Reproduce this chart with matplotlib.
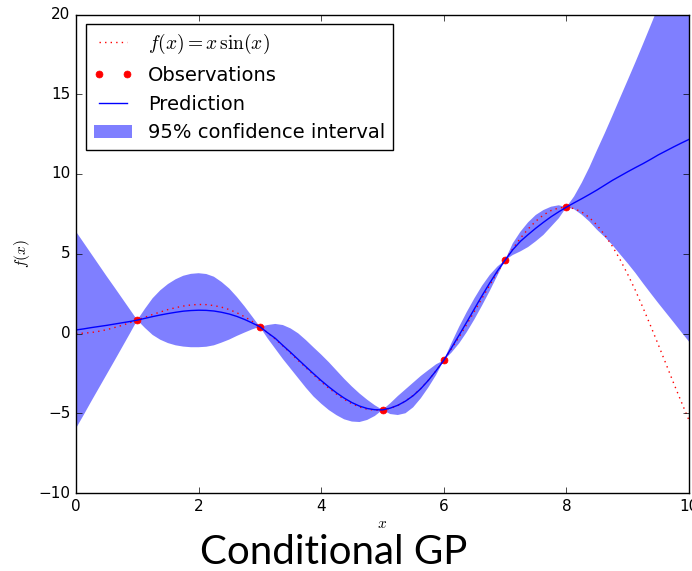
import matplotlib
matplotlib.use("Agg")
import matplotlib.pyplot as plt

x = [0.0, 0.125, 0.25, 0.375, 0.5, 0.625, 0.75, 0.875,
     1.0, 1.125, 1.25, 1.375, 1.5, 1.625, 1.75, 1.875,
     2.0, 2.125, 2.25, 2.375, 2.5, 2.625, 2.75, 2.875,
     3.0, 3.125, 3.25, 3.375, 3.5, 3.625, 3.75, 3.875,
     4.0, 4.125, 4.25, 4.375, 4.5, 4.625, 4.75, 4.875,
     5.0, 5.125, 5.25, 5.375, 5.5, 5.625, 5.75, 5.875,
     6.0, 6.125, 6.25, 6.375, 6.5, 6.625, 6.75, 6.875,
     7.0, 7.125, 7.25, 7.375, 7.5, 7.625, 7.75, 7.875,
     8.0, 8.125, 8.25, 8.375, 8.5, 8.625, 8.75, 8.875,
     9.0, 9.125, 9.25, 9.375, 9.5, 9.625, 9.75, 9.875,
     10.0]

# true function f(x) = x sin(x)
f_true = [0.00, 0.02, 0.06, 0.14, 0.24, 0.37, 0.51, 0.67,
          0.84, 1.02, 1.19, 1.35, 1.50, 1.62, 1.72, 1.79,
          1.82, 1.81, 1.75, 1.65, 1.50, 1.30, 1.05, 0.76,
          0.42, 0.05, -0.35, -0.78, -1.23, -1.69, -2.14, -2.59,
          -3.03, -3.43, -3.80, -4.13, -4.40, -4.61, -4.75, -4.81,
          -4.79, -4.70, -4.51, -4.24, -3.88, -3.44, -2.92, -2.33,
          -1.68, -0.96, -0.21, 0.58, 1.40, 2.22, 3.04, 3.84,
          4.60, 5.31, 5.98, 6.55, 7.04, 7.43, 7.71, 7.87,
          7.92, 7.83, 7.62, 7.27, 6.79, 6.18, 5.47, 4.64,
          3.71, 2.71, 1.61, 0.47, -0.71, -1.91, -3.12, -4.29,
          -5.44]

# GP mean
y_pred = [0.22, 0.29, 0.37, 0.44, 0.51, 0.59, 0.67, 0.75,
          0.84, 0.95, 1.06, 1.16, 1.25, 1.33, 1.40, 1.44,
          1.46, 1.45, 1.41, 1.33, 1.22, 1.07, 0.88, 0.66,
          0.42, 0.05, -0.30, -0.75, -1.18, -1.63, -2.08, -2.52,
          -2.95, -3.35, -3.72, -4.05, -4.33, -4.55, -4.70, -4.78,
          -4.79, -4.68, -4.50, -4.24, -3.90, -3.46, -2.93, -2.33,
          -1.68, -0.90, -0.10, 0.72, 1.55, 2.38, 3.17, 3.92,
          4.60, 5.25, 5.78, 6.20, 6.60, 6.97, 7.32, 7.63,
          7.92, 8.19, 8.45, 8.72, 9.00, 9.30, 9.60, 9.87,
          10.14, 10.40, 10.65, 10.92, 11.20, 11.45, 11.70, 11.94,
          12.17]

# 95% band edges
upper = [6.39, 5.69, 4.99, 4.29, 3.59, 2.91, 2.22, 1.53,
         0.84, 1.55, 2.21, 2.71, 3.10, 3.40, 3.62, 3.74,
         3.78, 3.73, 3.56, 3.23, 2.82, 2.29, 1.70, 1.06,
         0.42, 0.53, 0.60, 0.53, 0.32, 0.01, -0.41, -0.87,
         -1.32, -1.80, -2.32, -2.84, -3.32, -3.76, -4.15, -4.50,
         -4.79, -4.38, -3.92, -3.50, -3.08, -2.66, -2.29, -1.93,
         -1.68, -0.60, 0.42, 1.35, 2.21, 3.00, 3.67, 4.20,
         4.60, 5.65, 6.38, 6.97, 7.43, 7.74, 7.95, 8.04,
         7.92, 8.59, 9.45, 10.42, 11.50, 12.55, 13.65, 14.77,
         15.88, 17.00, 18.15, 19.32, 20.50, 21.60, 22.70, 23.79,
         24.85]
lower = [-5.95, -5.11, -4.25, -3.41, -2.57, -1.73, -0.88, -0.03,
         0.84, 0.35, -0.09, -0.39, -0.60, -0.74, -0.82, -0.86,
         -0.86, -0.83, -0.74, -0.57, -0.38, -0.15, 0.06, 0.26,
         0.42, -0.30, -0.95, -1.60, -2.20, -2.80, -3.40, -3.95,
         -4.40, -4.80, -5.12, -5.38, -5.52, -5.55, -5.42, -5.17,
         -4.79, -5.05, -5.11, -5.00, -4.63, -4.06, -3.37, -2.60,
         -1.68, -1.20, -0.62, 0.09, 0.89, 1.76, 2.67, 3.64,
         4.60, 4.92, 5.15, 5.42, 5.78, 6.18, 6.70, 7.22,
         7.92, 7.79, 7.45, 7.02, 6.50, 6.05, 5.55, 4.97,
         4.40, 3.80, 3.15, 2.52, 1.90, 1.30, 0.70, 0.09,
         -0.51]

# observations
X_obs = [1, 3, 5, 6, 7, 8]
y_obs = [0.84, 0.42, -4.79, -1.68, 4.60, 7.92]

plt.style.use('classic')
plt.rcParams['mathtext.fontset'] = 'cm'
plt.rcParams['font.size'] = 11

fig = plt.figure(figsize=(6.92, 5.71), dpi=100, facecolor='white')
ax = fig.add_axes([76/692, 78/571, 613/692, 478.5/571])

ax.plot(x, f_true, 'r:', label=r'$f(x) = x\,\sin(x)$')
ax.plot(X_obs, y_obs, 'r.', markersize=10, label='Observations')
ax.plot(x, y_pred, 'b-', label='Prediction')
ax.fill(x + x[::-1], upper + lower[::-1], alpha=.5, fc='b', ec='None',
        label='95% confidence interval')

ax.set_xlabel('$x$', labelpad=2)
ax.set_ylabel('$f(x)$')
ax.set_xlim(0, 10)
ax.set_ylim(-10, 20)
ax.legend(loc='upper left', fontsize=14)

fig.text(334/692, 1 - 564/571, 'Conditional GP', family='Lato', fontsize=29,
         ha='center', va='baseline')

fig.savefig('out.png', dpi=100, facecolor='white')
